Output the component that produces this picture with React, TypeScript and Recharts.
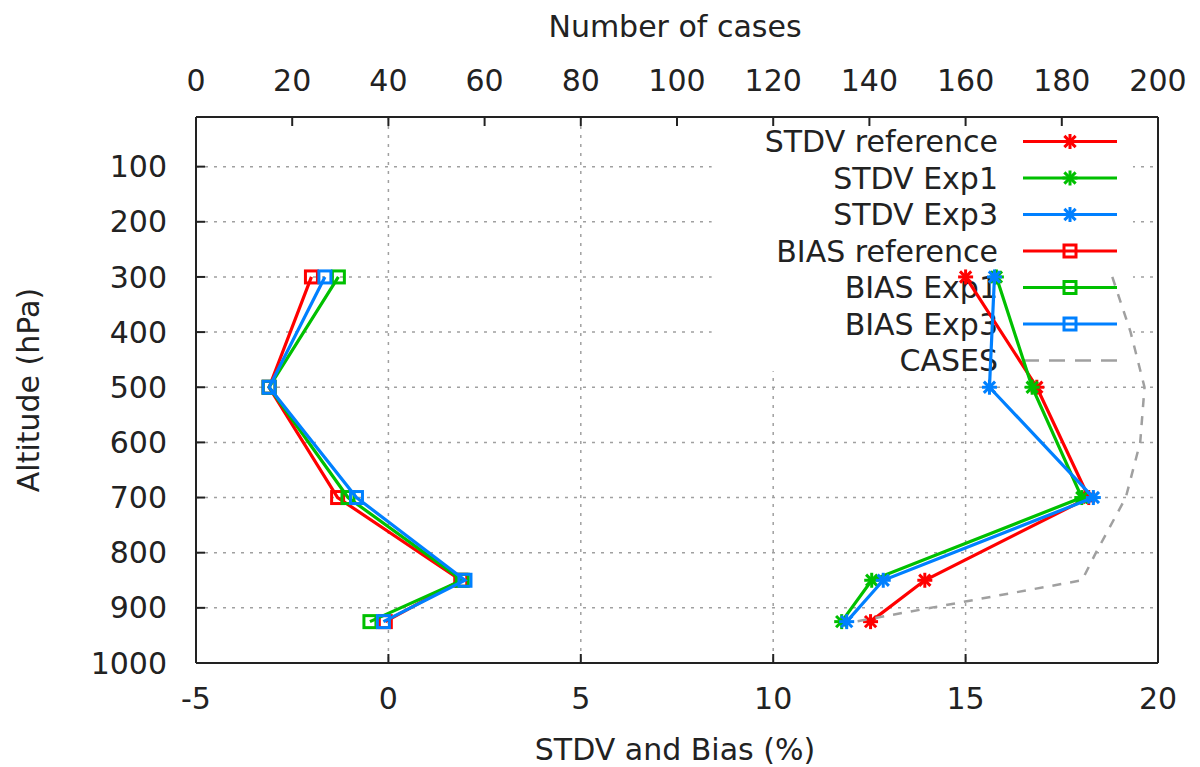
import React from "react";
import {
  ComposedChart,
  Scatter,
  XAxis,
  YAxis,
  CartesianGrid,
  ReferenceArea,
} from "recharts";

// pressure levels (hPa)
const levels = [300, 500, 700, 850, 925];

// STDV (%)
const stdvRef = [15.0, 16.85, 18.2, 13.94, 12.53];
const stdvExp1 = [15.8, 16.73, 18.02, 12.56, 11.78];
const stdvExp3 = [15.75, 15.62, 18.32, 12.86, 11.91];

// BIAS (%)
const biasRef = [-2.0, -3.1, -1.32, 1.88, -0.08];
const biasExp1 = [-1.3, -3.1, -1.05, 1.92, -0.48];
const biasExp3 = [-1.65, -3.1, -0.83, 1.99, -0.13];

// number of cases (top axis)
const caseLevels = [300, 400, 500, 600, 700, 800, 850, 925];
const cases = [190.5, 194.3, 197.2, 196.3, 193.3, 187.1, 184.2, 137];

const xTicks = [-5, 0, 5, 10, 15, 20];
const x2Ticks = [0, 20, 40, 60, 80, 100, 120, 140, 160, 180, 200];
const yTicks = [100, 200, 300, 400, 500, 600, 700, 800, 900, 1000];

const legendNames = [
  "STDV reference",
  "STDV Exp1",
  "STDV Exp3",
  "BIAS reference",
  "BIAS Exp1",
  "BIAS Exp3",
  "CASES",
];

const RED = "#ff0000";
const GREEN = "#00c000";
const BLUE = "#0080ff";
const GREY = "#a0a0a0";
const INK = "#222";
const FONT = "'DejaVu Sans', sans-serif";

const toPoints = (ps: number[], vs: number[]) => ps.map((p, i) => ({ p, v: vs[i] }));

function Star({ cx, cy, color }: { cx: number; cy: number; color: string }) {
  const s = 7.5;
  const d = s * 0.75;
  return (
    <g stroke={color} strokeWidth={3}>
      <line x1={cx - s} y1={cy} x2={cx + s} y2={cy} />
      <line x1={cx} y1={cy - s} x2={cx} y2={cy + s} />
      <line x1={cx - d} y1={cy - d} x2={cx + d} y2={cy + d} />
      <line x1={cx - d} y1={cy + d} x2={cx + d} y2={cy - d} />
    </g>
  );
}

function Square({ cx, cy, color }: { cx: number; cy: number; color: string }) {
  return <rect x={cx - 6} y={cy - 6} width={12} height={12} fill="none" stroke={color} strokeWidth={3} />;
}

const series = [
  { name: legendNames[0], data: toPoints(levels, stdvRef), color: RED, kind: "star" },
  { name: legendNames[1], data: toPoints(levels, stdvExp1), color: GREEN, kind: "star" },
  { name: legendNames[2], data: toPoints(levels, stdvExp3), color: BLUE, kind: "star" },
  { name: legendNames[3], data: toPoints(levels, biasRef), color: RED, kind: "square" },
  { name: legendNames[4], data: toPoints(levels, biasExp1), color: GREEN, kind: "square" },
  { name: legendNames[5], data: toPoints(levels, biasExp3), color: BLUE, kind: "square" },
];

// opaque key: white box hides the grid, series are drawn over it
function KeyBox(props: any) {
  const rowY = (i: number) => 141.5 + 36.5 * i;
  return (
    <g>
      <rect x={props.x} y={props.y} width={props.width} height={props.height} fill="#fff" />
      {legendNames.map((name, i) => {
        const y = rowY(i);
        const s = series[i];
        return (
          <g key={name}>
            <text x={998} y={y + 10.5} textAnchor="end" fontSize={30} fontFamily={FONT} fill={INK}>
              {name}
            </text>
            {s ? (
              <>
                <line x1={1023} y1={y} x2={1117} y2={y} stroke={s.color} strokeWidth={3} />
                {s.kind === "star" ? (
                  <Star cx={1070} cy={y} color={s.color} />
                ) : (
                  <Square cx={1070} cy={y} color={s.color} />
                )}
              </>
            ) : (
              <line x1={1023} y1={y} x2={1117} y2={y} stroke={GREY} strokeWidth={2.5} strokeDasharray="16 10" />
            )}
          </g>
        );
      })}
    </g>
  );
}

const tickStyle = { fontSize: 30, fill: INK, fontFamily: FONT };
const axisLine = { stroke: INK, strokeWidth: 2 };

export default function App() {
  return (
    <div style={{ position: "absolute", left: 0, top: 0, width: 1200, height: 767, background: "#fff" }}>
      <ComposedChart width={1200} height={767} margin={{ top: 57, right: 41, bottom: 44, left: 96 }}>
        <CartesianGrid xAxisId="b" yAxisId="l" stroke={GREY} strokeDasharray="3 6" strokeWidth={1.5} />
        <XAxis
          xAxisId="b"
          type="number"
          dataKey="v"
          orientation="bottom"
          domain={[-5, 20]}
          ticks={xTicks}
          interval={0}
          allowDataOverflow
          height={60}
          tickSize={-9}
          tickMargin={34}
          tick={tickStyle}
          axisLine={axisLine}
          tickLine={axisLine}
        />
        <XAxis
          xAxisId="t"
          type="number"
          dataKey="v"
          orientation="top"
          domain={[0, 200]}
          ticks={x2Ticks}
          interval={0}
          allowDataOverflow
          height={60}
          tickSize={-9}
          tickMargin={35}
          tick={tickStyle}
          axisLine={axisLine}
          tickLine={axisLine}
        />
        <YAxis
          yAxisId="l"
          type="number"
          dataKey="p"
          domain={[10, 1000]}
          reversed
          ticks={yTicks}
          interval={0}
          allowDataOverflow
          width={100}
          tickSize={-9}
          tickMargin={38}
          tick={tickStyle}
          axisLine={axisLine}
          tickLine={axisLine}
        />
        <YAxis
          yAxisId="r"
          orientation="right"
          type="number"
          dataKey="p"
          domain={[10, 1000]}
          reversed
          ticks={yTicks}
          interval={0}
          allowDataOverflow
          width={1}
          tickSize={-9}
          tick={false}
          axisLine={axisLine}
          tickLine={axisLine}
        />
        <ReferenceArea
          xAxisId="b"
          yAxisId="l"
          x1={8.4}
          x2={19.35}
          y1={10}
          y2={471}
          ifOverflow="visible"
          shape={(p: any) => <KeyBox {...p} />}
        />
        {series.map((s) => (
          <Scatter
            key={s.name}
            name={s.name}
            data={s.data}
            xAxisId="b"
            yAxisId="l"
            fill={s.color}
            line={{ stroke: s.color, strokeWidth: 3.2 }}
            shape={(p: any) =>
              s.kind === "star" ? (
                <Star cx={p.cx} cy={p.cy} color={s.color} />
              ) : (
                <Square cx={p.cx} cy={p.cy} color={s.color} />
              )
            }
            isAnimationActive={false}
          />
        ))}
        <Scatter
          name="CASES"
          data={toPoints(caseLevels, cases)}
          xAxisId="t"
          yAxisId="l"
          fill={GREY}
          line={{ stroke: GREY, strokeWidth: 2.5, strokeDasharray: "9 9" }}
          shape={() => <g />}
          isAnimationActive={false}
        />
      </ComposedChart>
      <svg
        width={1200}
        height={767}
        style={{ position: "absolute", left: 0, top: 0, pointerEvents: "none" }}
      >
        <text x={675} y={37} textAnchor="middle" fontSize={30} fontFamily={FONT} fill={INK}>
          Number of cases
        </text>
        <text x={675} y={760} textAnchor="middle" fontSize={30} fontFamily={FONT} fill={INK}>
          STDV and Bias (%)
        </text>
        <text
          x={39}
          y={390}
          textAnchor="middle"
          fontSize={30}
          fontFamily={FONT}
          fill={INK}
          transform="rotate(-90 39 390)"
        >
          Altitude (hPa)
        </text>
      </svg>
    </div>
  );
}
